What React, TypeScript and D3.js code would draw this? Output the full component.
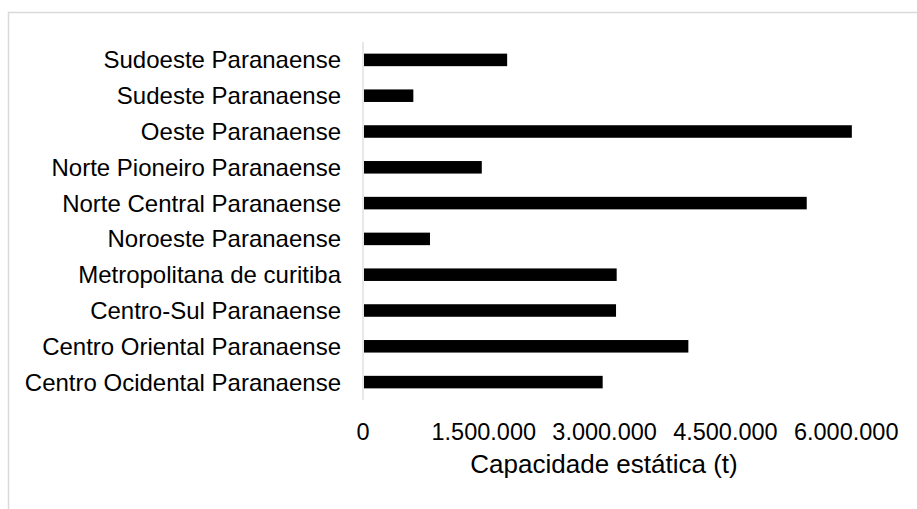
import React from 'react'
import { scaleLinear, scaleBand } from 'd3'

// regions, top to bottom as in the chart
const regions = [
  'Sudoeste Paranaense',
  'Sudeste Paranaense',
  'Oeste Paranaense',
  'Norte Pioneiro Paranaense',
  'Norte Central Paranaense',
  'Noroeste Paranaense',
  'Metropolitana de curitiba',
  'Centro-Sul Paranaense',
  'Centro Oriental Paranaense',
  'Centro Ocidental Paranaense',
]
const capacity = [1790000, 625000, 6070000, 1475000, 5510000, 832000, 3150000, 3142000, 4040000, 2976000]
const ticks = [0, 1500000, 3000000, 4500000, 6000000]
const axisTitle = 'Capacidade estática (t)'

const fmt = (v: number) => String(v).replace(/\B(?=(\d{3})+(?!\d))/g, '.')

const App = () => {
  const width = 917
  const height = 509
  const left = 363
  const top = 42
  const bottom = 400
  const font = '"Liberation Sans", Arial, sans-serif'

  // plot area runs off the right edge of the picture (max 7.500.000)
  const xscale = scaleLinear().domain([0, 7500000]).range([left, left + 604])
  const yscale = scaleBand<string>().domain(regions).range([top, bottom]).paddingInner(0.65).paddingOuter(0.325)

  const bars = regions.map((r, i) => (
    <rect
      key={r}
      x={xscale(0) + 1}
      y={yscale(r)}
      width={xscale(capacity[i]) - xscale(0) - 1}
      height={yscale.bandwidth()}
      fill='#000'
    />
  ))

  const labels = regions.map(r => (
    <text
      key={r}
      x={left - 22}
      y={(yscale(r) || 0) + yscale.bandwidth() / 2 + 8.5}
      textAnchor='end'
      fontSize='24px'
      fill='#000'
    >
      {r}
    </text>
  ))

  const tickLabels = ticks.map(t => (
    <text key={t} x={xscale(t)} y={440} textAnchor='middle' fontSize='23.5px' fill='#000'>
      {fmt(t)}
    </text>
  ))

  return (
    <svg
      width={width}
      height={height}
      viewBox={`0 0 ${width} ${height}`}
      style={{ position: 'absolute', left: 0, top: 0, background: '#fff' }}
      fontFamily={font}
    >
      <rect x={8.5} y={12.5} width={width + 20} height={height + 20} fill='#fff' stroke='#d9d9d9' strokeWidth={1.5} />
      <line x1={left} x2={left} y1={top} y2={bottom} stroke='#d9d9d9' strokeWidth={1.2} />
      {bars}
      {labels}
      {tickLabels}
      <text x={604} y={473} textAnchor='middle' fontSize='26px' fill='#000'>
        {axisTitle}
      </text>
    </svg>
  )
}

export default App
